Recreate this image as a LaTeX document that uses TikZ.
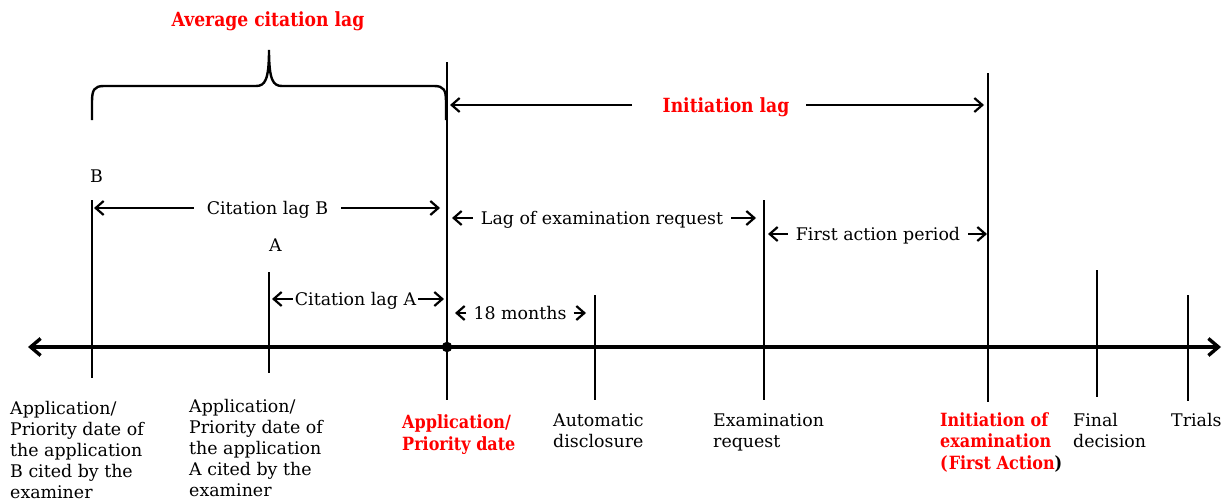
\documentclass[tikz,border=0pt]{standalone}
\usepackage{fontspec}
\setmainfont{DejaVu Serif}
\newfontfamily\redbf[FakeStretch=0.88]{DejaVu Serif}
\usetikzlibrary{arrows.meta}
\definecolor{lblred}{RGB}{255,0,0}
\tikzset{
  tick/.style={line width=2.4pt},
  axisline/.style={line width=3.4pt, {Straight Barb[length=10pt,width=17pt]}-{Straight Barb[length=10pt,width=17pt]}},
  dimline/.style={line width=2.2pt, -{Straight Barb[length=8pt,width=14pt]}},
  lbl/.style={font=\fontsize{17.4}{21}\selectfont, inner sep=0pt, align=left, anchor=base west},
  dimlbl/.style={font=\fontsize{17.4}{21}\selectfont, inner ysep=0pt, anchor=base},
  redlbl/.style={font=\redbf\bfseries\fontsize{18.2}{21.5}\selectfont, text=lblred, inner sep=0pt, align=left, anchor=base west},
  toplbl/.style={font=\redbf\bfseries\fontsize{19.5}{22}\selectfont, text=lblred, inner sep=0pt, anchor=base},
  bracepath/.style={line width=2.4pt},
}
\begin{document}
\begin{tikzpicture}[x=1pt,y=-1pt]
\useasboundingbox (0,0) rectangle (1230,501);

% time axis
\coordinate (axL) at (28,347);
\coordinate (axR) at (1221,347);
\draw[axisline] (axL) -- (axR);

% ticks
\coordinate (tB) at (92,200);   \coordinate (bB) at (92,378);
\coordinate (tA) at (269,272);  \coordinate (bA) at (269,373);
\coordinate (tP) at (447,62);   \coordinate (bP) at (447,400);
\coordinate (tD) at (595,295);  \coordinate (bD) at (595,400);
\coordinate (tR) at (764,200);  \coordinate (bR) at (764,400);
\coordinate (tI) at (988,73);   \coordinate (bI) at (988,402);
\coordinate (tF) at (1097,270); \coordinate (bF) at (1097,397);
\coordinate (tT) at (1188,295); \coordinate (bT) at (1188,401);
\draw[tick] (tB) -- (bB);
\draw[tick] (tA) -- (bA);
\draw[tick] (tP) -- (bP);
\draw[tick] (tD) -- (bD);
\draw[tick] (tR) -- (bR);
\draw[tick] (tI) -- (bI);
\draw[tick] (tF) -- (bF);
\draw[tick] (tT) -- (bT);
\node[circle, fill, inner sep=0pt, minimum size=10.5pt] (dot) at (447,347) {};

% brace
\coordinate (brL) at (92,120);
\coordinate (brTip) at (269,50);
\coordinate (brR) at (446,120);
\draw[bracepath] (brL) -- (92,102) .. controls (92,90) and (94,86) .. (104,86)
  -- (256,86) .. controls (265,86) and (269,80) .. (brTip)
  .. controls (269,80) and (273,86) .. (282,86)
  -- (434,86) .. controls (444,86) and (446,90) .. (446,102) -- (brR);

% top labels
\node[toplbl] (avg) at (268,26) {Average citation lag};
\node[toplbl] (initlag) at (726,112) {Initiation lag};
\coordinate (il0) at (632,105); \coordinate (il1) at (450,105);
\coordinate (il2) at (806,105); \coordinate (il3) at (984,105);
\draw[dimline] (il0) -- (il1);
\draw[dimline] (il2) -- (il3);

\node[lbl] (labB) at (90,182) {B};
\node[lbl] (labA) at (269,251) {A};

% dimension labels
\node[dimlbl, inner xsep=13pt] (clB) at (267.5,214.5) {Citation lag B};
\coordinate (clB1) at (94,208); \coordinate (clB2) at (440,208);
\draw[dimline] (clB.west |- clB1) -- (clB1);
\draw[dimline] (clB.east |- clB2) -- (clB2);

\node[dimlbl, inner xsep=2pt] (clA) at (355.5,305.5) {Citation lag A};
\coordinate (clA1) at (272,299); \coordinate (clA2) at (444,299);
\draw[dimline] (clA.west |- clA1) -- (clA1);
\draw[dimline] (clA.east |- clA2) -- (clA2);

\node[dimlbl, inner xsep=8pt] (lagR) at (602,224.5) {Lag of examination request};
\coordinate (lagR1) at (452,218); \coordinate (lagR2) at (756,218);
\draw[dimline] (lagR.west |- lagR1) -- (lagR1);
\draw[dimline] (lagR.east |- lagR2) -- (lagR2);

\node[dimlbl, inner xsep=8pt] (fap) at (878,240.5) {First action period};
\coordinate (fap1) at (768,234); \coordinate (fap2) at (987,234);
\draw[dimline] (fap.west |- fap1) -- (fap1);
\draw[dimline] (fap.east |- fap2) -- (fap2);

\node[dimlbl, inner xsep=7pt] (m18) at (520,319.5) {18 months};
\coordinate (m181) at (455,313); \coordinate (m182) at (586,313);
\draw[dimline] (m18.west |- m181) -- (m181);
\draw[dimline] (m18.east |- m182) -- (m182);

% bottom labels (anchored at the baseline of their last line)
\node[lbl] (nB) at (10,498) {Application/\\Priority date of\\the application\\B cited by the\\examiner};
\node[lbl] (nA) at (189,496) {Application/\\Priority date of\\the application\\A cited by the\\examiner};
\node[redlbl] (nP) at (402,450) {Application/\\Priority date};
\node[lbl] (nD) at (553,447) {Automatic\\disclosure};
\node[lbl] (nR) at (713,447) {Examination\\request};
\node[redlbl] (nI) at (940,469) {Initiation of\\examination\\(\kern1pt First Action\textcolor{black}{)}};
\node[lbl] (nF) at (1073,447) {Final\\decision};
\node[lbl] (nT) at (1171,426) {Trials};
\end{tikzpicture}
\end{document}
